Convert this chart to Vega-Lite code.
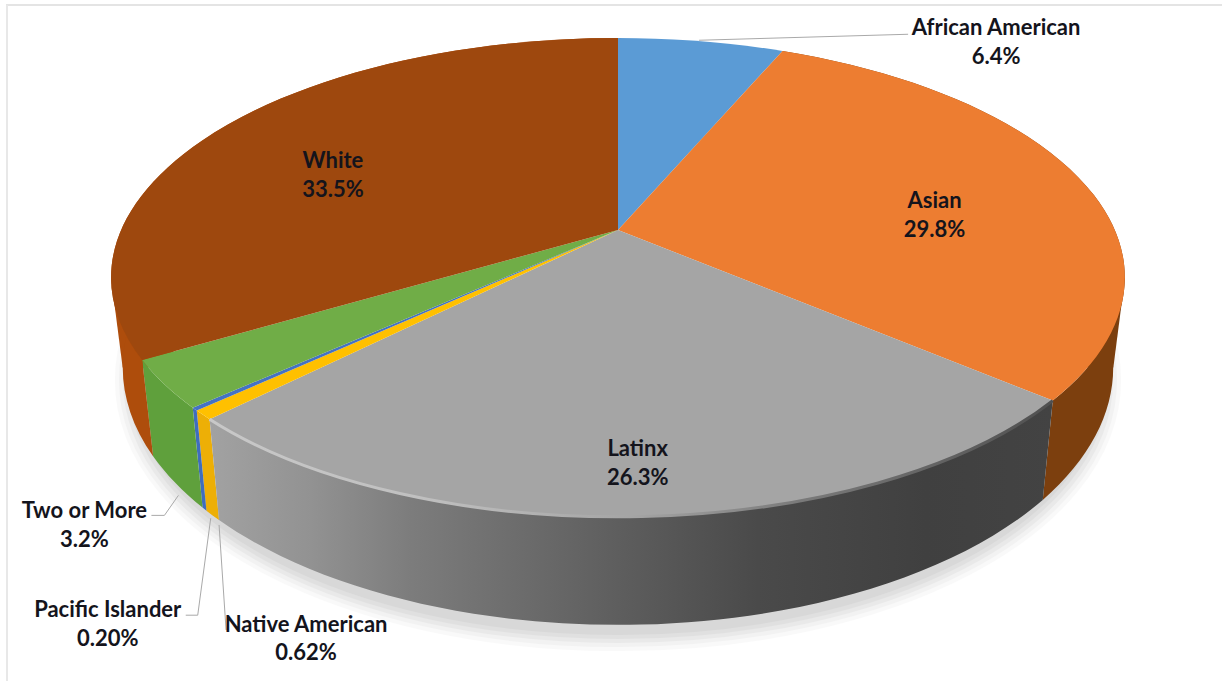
{
  "$schema": "https://vega.github.io/schema/vega-lite/v6.json",
  "width": 1222,
  "height": 683,
  "padding": 0,
  "autosize": {"type": "none"},
  "background": "#ffffff",
  "view": {"stroke": null},
  "params": [
    {"name": "apexX", "value": 618},
    {"name": "apexY", "value": 230},
    {"name": "foreA", "value": 497},
    {"name": "foreB", "value": 230},
    {"name": "tilt", "value": 0.198},
    {"name": "rimX", "value": 507},
    {"name": "rimY", "value": 239.5},
    {"name": "depth", "value": 86.5},
    {"name": "baseX", "value": 0.977},
    {"name": "baseY", "value": 1.075},
    {"name": "labelShift", "value": {
      "African American": [295, 1],
      "Asian": [-146, 36],
      "Latinx": [-6, -53],
      "Native American": [103, 224],
      "Pacific Islander": [-87, 215],
      "Two or More": [-80, 141],
      "White": [108, 49]
    }},
    {"name": "leaderPath", "value": {
      "African American": "M-297 -2L-88 -8",
      "Two or More": "M94 -30L80 -10L67 -10",
      "Pacific Islander": "M103 -106L90 -9L78 -9",
      "Native American": "M-87 -114L-80 -9"
    }}
  ],
  "data": {
    "values": [
      {"order": 1, "group": "African American", "share": 6.4, "pct": "6.4%"},
      {"order": 2, "group": "Asian", "share": 29.8, "pct": "29.8%"},
      {"order": 3, "group": "Latinx", "share": 26.3, "pct": "26.3%"},
      {"order": 4, "group": "Native American", "share": 0.62, "pct": "0.62%"},
      {"order": 5, "group": "Pacific Islander", "share": 0.2, "pct": "0.20%"},
      {"order": 6, "group": "Two or More", "share": 3.2, "pct": "3.2%"},
      {"order": 7, "group": "White", "share": 33.5, "pct": "33.5%"}
    ]
  },
  "transform": [
    {"joinaggregate": [{"op": "sum", "field": "share", "as": "total"}]},
    {"window": [{"op": "sum", "field": "share", "as": "upto"}], "sort": [{"field": "order"}]},
    {"calculate": "2 * PI * (datum.upto - datum.share) / datum.total", "as": "a0"},
    {"calculate": "2 * PI * datum.upto / datum.total", "as": "a1"},
    {"calculate": "(datum.a0 + datum.a1) / 2", "as": "am"},
    {"calculate": "round(100 * foreA * sin(datum.a0) / (1 + tilt * cos(datum.a0))) / 100", "as": "x0"},
    {"calculate": "round(-100 * foreB * cos(datum.a0) / (1 + tilt * cos(datum.a0))) / 100", "as": "y0"},
    {"calculate": "round(100 * foreA * sin(datum.a1) / (1 + tilt * cos(datum.a1))) / 100", "as": "x1"},
    {"calculate": "round(-100 * foreB * cos(datum.a1) / (1 + tilt * cos(datum.a1))) / 100", "as": "y1"},
    {"calculate": "foreA * sin(datum.am) / (1 + tilt * cos(datum.am))", "as": "xm"},
    {"calculate": "-foreB * cos(datum.am) / (1 + tilt * cos(datum.am))", "as": "ym"},
    {"calculate": "apexX", "as": "ox"},
    {"calculate": "apexY", "as": "oy"},
    {"calculate": "apexX + datum.xm + labelShift[datum.group][0]", "as": "lx"},
    {"calculate": "apexY + datum.ym + labelShift[datum.group][1]", "as": "ly"},
    {"calculate": "datum.group + '\\n' + datum.pct", "as": "caption"},
    {"calculate": "'M' + datum.x0 + ' ' + datum.y0 + 'A' + rimX + ' ' + rimY + ' 0 0 1 ' + datum.x1 + ' ' + datum.y1", "as": "rim"},
    {"calculate": "'M0 0L' + datum.x0 + ' ' + datum.y0 + 'A' + rimX + ' ' + rimY + ' 0 0 1 ' + datum.x1 + ' ' + datum.y1 + 'Z'", "as": "face"},
    {"calculate": "datum.rim + 'L' + (baseX * datum.x1) + ' ' + (depth + baseY * datum.y1) + 'A' + (baseX * rimX) + ' ' + (baseY * rimY) + ' 0 0 0 ' + (baseX * datum.x0) + ' ' + (depth + baseY * datum.y0) + 'Z'", "as": "wall"},
    {"calculate": "datum.group === 'White' ? -1 : 1", "as": "side"},
    {"calculate": "foreB * tilt / (1 - tilt * tilt)", "as": "rimMid"},
    {"calculate": "depth + baseY * datum.rimMid", "as": "baseMid"},
    {"calculate": "'M' + (datum.side * rimX) + ' ' + datum.rimMid + 'L' + (datum.side * baseX * rimX) + ' ' + datum.baseMid + 'L' + (datum.side * 0.85 * rimX) + ' ' + datum.baseMid + 'Z'", "as": "flank"}
  ],
  "layer": [
    {
      "data": {"values": [{"part": "frame"}]},
      "mark": {"type": "rule", "stroke": "#e4e4e4", "strokeWidth": 2},
      "encoding": {
        "x": {"datum": 6, "type": "quantitative", "scale": {"domain": [0, 1222], "nice": false, "zero": false}, "axis": null},
        "x2": {"datum": 1222},
        "y": {"datum": 5, "type": "quantitative", "scale": {"domain": [0, 683], "reverse": true, "nice": false, "zero": false}, "axis": null}
      }
    },
    {
      "data": {"values": [{"part": "frame"}]},
      "mark": {"type": "rule", "stroke": "#e8e8e8", "strokeWidth": 2},
      "encoding": {
        "x": {"datum": 7, "type": "quantitative"},
        "y": {"datum": 5, "type": "quantitative"},
        "y2": {"datum": 681}
      }
    },
    {
      "data": {"values": [{"part": "shadow"}]},
      "mark": {"type": "point", "filled": false, "size": 4, "opacity": 0.02, "stroke": "#000000", "strokeWidth": 46, "shape": "M-480 0A480 248 0 1 1 480 0A480 248 0 1 1 -480 0Z"},
      "encoding": {"x": {"datum": 618, "type": "quantitative"}, "y": {"datum": 380, "type": "quantitative"}}
    },
    {
      "data": {"values": [{"part": "shadow"}]},
      "mark": {"type": "point", "filled": false, "size": 4, "opacity": 0.025, "stroke": "#000000", "strokeWidth": 38, "shape": "M-480 0A480 248 0 1 1 480 0A480 248 0 1 1 -480 0Z"},
      "encoding": {"x": {"datum": 618, "type": "quantitative"}, "y": {"datum": 380, "type": "quantitative"}}
    },
    {
      "data": {"values": [{"part": "shadow"}]},
      "mark": {"type": "point", "filled": false, "size": 4, "opacity": 0.03, "stroke": "#000000", "strokeWidth": 30, "shape": "M-480 0A480 248 0 1 1 480 0A480 248 0 1 1 -480 0Z"},
      "encoding": {"x": {"datum": 618, "type": "quantitative"}, "y": {"datum": 380, "type": "quantitative"}}
    },
    {
      "data": {"values": [{"part": "shadow"}]},
      "mark": {"type": "point", "filled": false, "size": 4, "opacity": 0.03, "stroke": "#000000", "strokeWidth": 22, "shape": "M-480 0A480 248 0 1 1 480 0A480 248 0 1 1 -480 0Z"},
      "encoding": {"x": {"datum": 618, "type": "quantitative"}, "y": {"datum": 380, "type": "quantitative"}}
    },
    {
      "data": {"values": [{"part": "shadow"}]},
      "mark": {"type": "point", "filled": false, "size": 4, "opacity": 0.03, "stroke": "#000000", "strokeWidth": 14, "shape": "M-480 0A480 248 0 1 1 480 0A480 248 0 1 1 -480 0Z"},
      "encoding": {"x": {"datum": 618, "type": "quantitative"}, "y": {"datum": 380, "type": "quantitative"}}
    },
    {
      "transform": [{"filter": "datum.group === 'Asian' || datum.group === 'White'"}],
      "mark": {"type": "point", "filled": true, "size": 4, "opacity": 1, "strokeWidth": 0},
      "encoding": {
        "x": {"field": "ox", "type": "quantitative"},
        "y": {"field": "oy", "type": "quantitative"},
        "shape": {"field": "flank", "type": "nominal", "scale": null},
        "fill": {
          "field": "group", "type": "nominal", "legend": null,
          "scale": {"domain": ["Asian", "White"], "range": ["#7C3F0E", "#AE4D0C"]}
        }
      }
    },
    {
      "transform": [{"filter": "datum.group !== 'African American' && datum.group !== 'Latinx'"}],
      "mark": {"type": "point", "filled": true, "size": 4, "opacity": 1, "strokeWidth": 0},
      "encoding": {
        "x": {"field": "ox", "type": "quantitative"},
        "y": {"field": "oy", "type": "quantitative"},
        "shape": {"field": "wall", "type": "nominal", "scale": null},
        "fill": {
          "field": "group", "type": "nominal", "legend": null,
          "scale": {
            "domain": ["Asian", "Native American", "Pacific Islander", "Two or More", "White"],
            "range": ["#7C3F0E", "#EDAF06", "#3F6DBE", "#5FA03C", "#AE4D0C"]
          }
        }
      }
    },
    {
      "transform": [{"filter": "datum.group === 'Latinx'"}],
      "mark": {
        "type": "point", "filled": true, "size": 4, "opacity": 1, "strokeWidth": 0,
        "fill": {"gradient": "linear", "x1": 0, "y1": 0, "x2": 1, "y2": 0,
          "stops": [
            {"offset": 0, "color": "#a2a2a2"},
            {"offset": 0.12, "color": "#929292"},
            {"offset": 0.24, "color": "#7c7c7c"},
            {"offset": 0.5, "color": "#5c5c5c"},
            {"offset": 0.65, "color": "#4a4a4a"},
            {"offset": 0.85, "color": "#404040"},
            {"offset": 1, "color": "#434343"}
          ]}
      },
      "encoding": {
        "x": {"field": "ox", "type": "quantitative"},
        "y": {"field": "oy", "type": "quantitative"},
        "shape": {"field": "wall", "type": "nominal", "scale": null}
      }
    },
    {
      "mark": {"type": "point", "filled": true, "size": 4, "opacity": 1, "strokeWidth": 0},
      "encoding": {
        "x": {"field": "ox", "type": "quantitative"},
        "y": {"field": "oy", "type": "quantitative"},
        "shape": {"field": "face", "type": "nominal", "scale": null},
        "fill": {
          "field": "group", "type": "nominal", "legend": null,
          "scale": {
            "domain": ["African American", "Asian", "Latinx", "Native American", "Pacific Islander", "Two or More", "White"],
            "range": ["#5B9BD5", "#ED7D31", "#A5A5A5", "#FFC000", "#4472C4", "#70AD47", "#9E480E"]
          }
        }
      }
    },
    {
      "transform": [{"filter": "datum.group === 'Latinx'"}],
      "mark": {
        "type": "point", "filled": false, "size": 4, "opacity": 1, "strokeWidth": 3,
        "stroke": {"gradient": "linear", "x1": 0, "y1": 0, "x2": 1, "y2": 0,
          "stops": [
            {"offset": 0, "color": "#c8c8c8"},
            {"offset": 0.25, "color": "#c0c0c0"},
            {"offset": 0.5, "color": "#a5a5a5"},
            {"offset": 0.7, "color": "#7a7a7a"},
            {"offset": 1, "color": "#505050"}
          ]}
      },
      "encoding": {
        "x": {"field": "ox", "type": "quantitative"},
        "y": {"field": "oy", "type": "quantitative"},
        "shape": {"field": "rim", "type": "nominal", "scale": null}
      }
    },
    {
      "transform": [{"filter": "isValid(leaderPath[datum.group])"}, {"calculate": "leaderPath[datum.group]", "as": "leader"}],
      "mark": {"type": "point", "filled": false, "size": 4, "opacity": 1, "strokeWidth": 1, "stroke": "#a9a9a9"},
      "encoding": {
        "x": {"field": "lx", "type": "quantitative"},
        "y": {"field": "ly", "type": "quantitative"},
        "shape": {"field": "leader", "type": "nominal", "scale": null}
      }
    },
    {
      "mark": {
        "type": "text", "font": "Lato", "fontWeight": "bold", "fontSize": 22,
        "lineBreak": "\n", "lineHeight": 28.5, "dy": -14, "align": "center", "baseline": "middle", "color": "#14141c"
      },
      "encoding": {
        "x": {"field": "lx", "type": "quantitative"},
        "y": {"field": "ly", "type": "quantitative"},
        "text": {"field": "caption", "type": "nominal"}
      }
    }
  ],
  "resolve": {"scale": {"fill": "independent"}},
  "config": {"style": {"cell": {"stroke": null}}}
}
